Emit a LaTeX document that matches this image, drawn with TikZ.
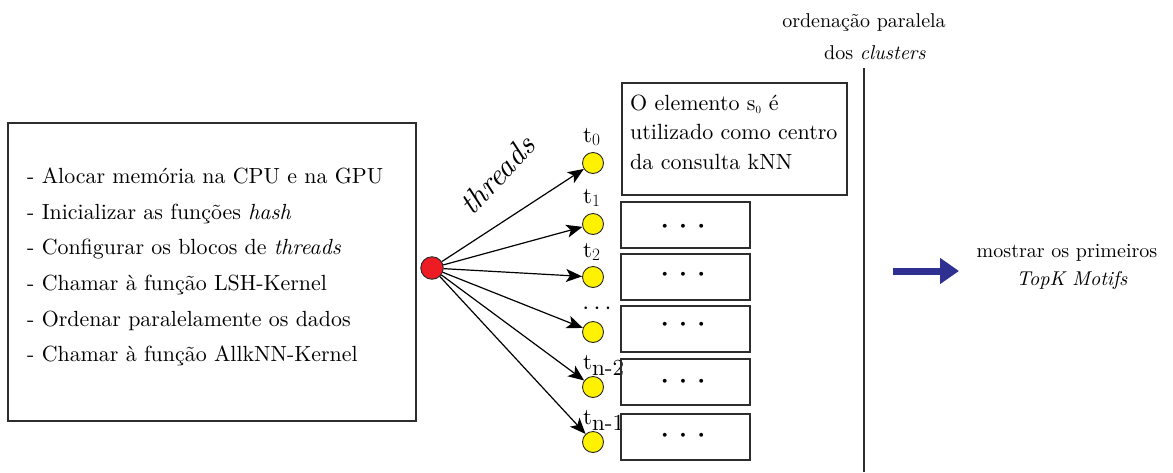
\documentclass[tikz,border=0pt]{standalone}
\usepackage{fontspec}
\setmainfont{lmroman10-regular.otf}[ItalicFont=lmroman10-italic.otf, BoldFont=lmroman10-bold.otf]
\usetikzlibrary{arrows.meta}
\definecolor{ylw}{RGB}{255,242,0}
\definecolor{rd}{RGB}{237,28,36}
\definecolor{blu}{RGB}{46,49,146}
\definecolor{bord}{RGB}{45,45,45}
\newcommand{\bdots}{{\boldmath$\cdot\mkern2.5mu\cdot\mkern2.5mu\cdot$}}
\begin{document}
\begin{tikzpicture}[x=1pt,y=-1pt,
  txt/.style={font=\fontsize{22}{26}\selectfont, inner sep=0pt, anchor=base west},
  hdr/.style={font=\fontsize{20}{24}\selectfont, inner sep=0pt, anchor=base},
  rt/.style={font=\fontsize{20}{24}\selectfont, inner sep=0pt, anchor=base},
  box/.style={draw=bord, line width=1.6pt, inner sep=0pt, anchor=north west},
  smallbox/.style={box, minimum width=129pt, minimum height=46pt},
  thr/.style={circle, draw=black!85, fill=ylw, minimum size=21pt, inner sep=0pt, line width=0.9pt},
  conn/.style={-{Stealth[length=16pt,width=13pt,inset=4pt]}, line width=1.2pt},
  tl/.style={font=\fontsize{23}{23}\selectfont, anchor=base west, inner sep=0pt},
  dts/.style={font=\fontsize{23}{23}\selectfont, inner sep=0pt}
]
\useasboundingbox (0,0) rectangle (1173,472);

% left box
\node[box, minimum width=408pt, minimum height=298pt] (main) at (7,122) {};
\node[font=\fontsize{21.9}{35.6}\selectfont, inner sep=0pt, anchor=west, align=left] (steps) at (27,267)
 {- Alocar memória na CPU e na GPU\\
  - Inicializar as funções \textit{hash}\\
  - Configurar os blocos de \textit{threads}\\
  - Chamar à função LSH-Kernel\\
  - Ordenar paralelamente os dados\\
  - Chamar à função AllkNN-Kernel};

% source
\node[circle, draw=black!85, fill=rd, minimum size=22.5pt, inner sep=0pt, line width=0.9pt] (src) at (432,268) {};

% threads label
\node[font=\fontsize{31}{31}\selectfont\itshape, rotate=47, inner sep=0pt] (thlab) at (497,175) {threads};

% thread circles
\node[thr] (t0) at (593,163) {};
\node[thr] (t1) at (593,224) {};
\node[thr] (t2) at (593,277) {};
\node[thr] (t3) at (593,332) {};
\node[thr] (t4) at (593,387) {};
\node[thr] (t5) at (593,442) {};

\foreach \n in {t0,t1,t2,t3,t4,t5} \draw[conn] (src) -- (\n);

% labels
\node[tl] (l0) at (583,142) {t$_{0}$};
\node[tl] (l1) at (583,203) {t$_{1}$};
\node[tl] (l2) at (583,257) {t$_{2}$};
\node[dts] (l3) at (597,309) {$\cdots$};
\node[tl] (l4) at (583,369) {t$_{\textrm{n-2}}$};
\node[tl] (l5) at (583,424) {t$_{\textrm{n-1}}$};

% boxes
\node[box, minimum width=225pt, minimum height=112pt] (b0) at (621,82) {};
\node[txt] (b0a) at (630,110) {O elemento s$_{\scriptscriptstyle 0}$ é};
\node[txt] (b0b) at (630,139.5) {utilizado como centro};
\node[txt] (b0c) at (630,169) {da consulta kNN};

\node[smallbox] (b1) at (620,201) {};
\node[smallbox] (b2) at (620,253) {};
\node[smallbox] (b3) at (620,305) {};
\node[smallbox] (b4) at (620,358) {};
\node[smallbox] (b5) at (620,413) {};
\node[dts] at (683,227) {\bdots};
\node[dts] at (683,275) {\bdots};
\node[dts] at (683,325) {\bdots};
\node[dts] at (683,382) {\bdots};
\node[dts] at (683,436) {\bdots};

% vertical separator
\coordinate (vt) at (864,68);
\coordinate (vb) at (864,472);
\draw[bord, line width=1.5pt] (vt) -- (vb);
\node[hdr] (h1) at (864,27) {ordenação paralela};
\node[hdr] (h2) at (875,59) {dos \textit{clusters}};

% blue arrow
\coordinate (ba) at (893,271);
\coordinate (bb) at (959,271);
\draw[blu, line width=7pt, -{Triangle[length=19pt,width=25pt]}] (ba) -- (bb);

\node[rt] (r1) at (1067,257) {mostrar os primeiros};
\node[rt] (r2) at (1072,285) {\textit{TopK Motifs}};
\end{tikzpicture}
\end{document}
